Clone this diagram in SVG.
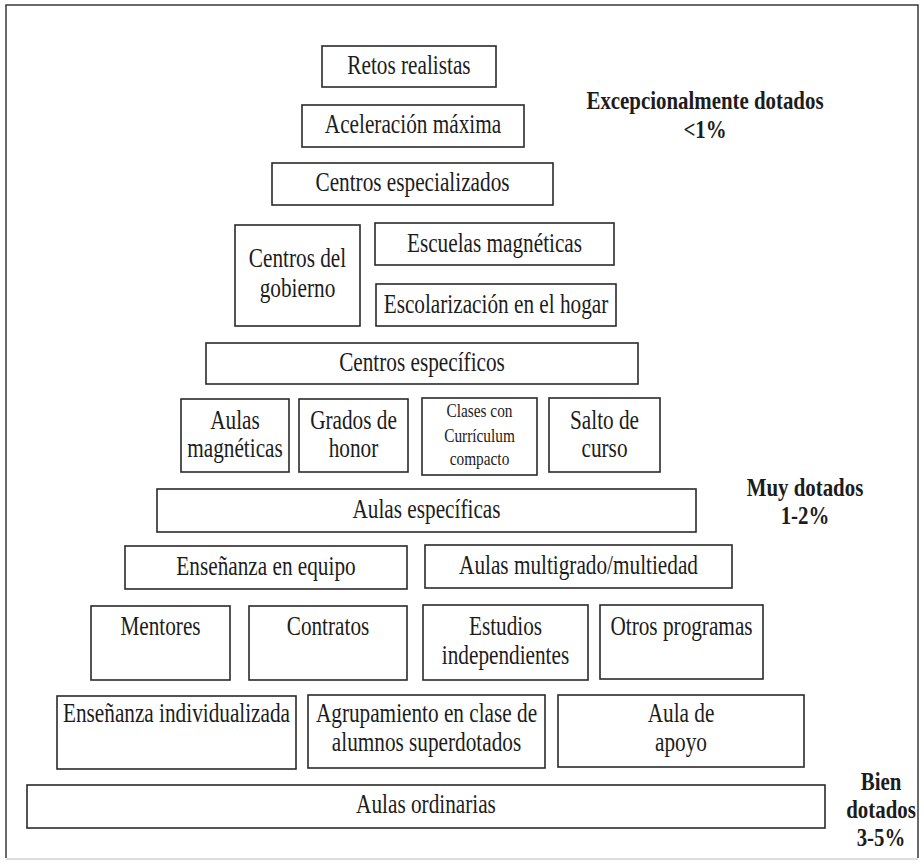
<svg xmlns="http://www.w3.org/2000/svg" width="924" height="864" viewBox="0 0 924 864">
<style>
.box{fill:#fff;stroke:#2a2a2a;stroke-width:1.6}
.t{font-family:"Liberation Serif","Times New Roman",serif;font-size:27px;fill:#1c1c1c;text-anchor:middle}
.s{font-size:19.5px}
.b{font-weight:bold;font-size:26px}
.frame{fill:none;stroke:#3a3a3a;stroke-width:1.5}
</style>
<rect width="924" height="864" fill="#fff"/>
<path class="frame" d="M6,858 L6,5 L918,5 L918,858"/>
<path d="M6,859 L918,859" stroke="#bbb" stroke-width="1" fill="none"/>
<g id="connectors"></g>
<g id="n1"><rect class="box" x="322" y="46" width="174" height="41"/><text class="t" transform="translate(409,74) scale(0.787,1)">Retos realistas</text></g>
<g id="n2"><rect class="box" x="302" y="105" width="222" height="42"/><text class="t" transform="translate(413,133) scale(0.787,1)">Aceleración máxima</text></g>
<g id="n3"><rect class="box" x="272" y="163" width="281" height="42"/><text class="t" transform="translate(412.5,191) scale(0.787,1)">Centros especializados</text></g>
<g id="n4"><rect class="box" x="235" y="225" width="125" height="101"/><text class="t" transform="translate(297.5,267) scale(0.787,1)">Centros del</text><text class="t" transform="translate(297.5,297) scale(0.787,1)">gobierno</text></g>
<g id="n5"><rect class="box" x="375" y="223" width="239" height="42"/><text class="t" transform="translate(494.5,252) scale(0.787,1)">Escuelas magnéticas</text></g>
<g id="n6"><rect class="box" x="376" y="284" width="240" height="42"/><text class="t" transform="translate(496,313) scale(0.787,1)">Escolarización en el hogar</text></g>
<g id="n7"><rect class="box" x="206" y="343" width="432" height="41"/><text class="t" transform="translate(422,371) scale(0.787,1)">Centros específicos</text></g>
<g id="n8"><rect class="box" x="181" y="399" width="108" height="73"/><text class="t" transform="translate(235,429) scale(0.787,1)">Aulas</text><text class="t" transform="translate(235,457) scale(0.787,1)">magnéticas</text></g>
<g id="n9"><rect class="box" x="299" y="399" width="109" height="73"/><text class="t" transform="translate(353.5,429) scale(0.787,1)">Grados de</text><text class="t" transform="translate(353.5,457) scale(0.787,1)">honor</text></g>
<g id="n10"><rect class="box" x="422" y="398" width="115" height="77"/><text class="t s" transform="translate(479.5,417) scale(0.787,1)">Clases con</text><text class="t s" transform="translate(479.5,442) scale(0.787,1)">Currículum</text><text class="t s" transform="translate(479.5,465) scale(0.787,1)">compacto</text></g>
<g id="n11"><rect class="box" x="549" y="398" width="111" height="74"/><text class="t" transform="translate(604.5,429) scale(0.787,1)">Salto de</text><text class="t" transform="translate(604.5,457) scale(0.787,1)">curso</text></g>
<g id="n12"><rect class="box" x="157" y="489" width="539" height="43"/><text class="t" transform="translate(426.5,518) scale(0.787,1)">Aulas específicas</text></g>
<g id="n13"><rect class="box" x="125" y="546" width="282" height="43"/><text class="t" transform="translate(266,575) scale(0.787,1)">Enseñanza en equipo</text></g>
<g id="n14"><rect class="box" x="425" y="545" width="307" height="43"/><text class="t" transform="translate(578.5,574) scale(0.787,1)">Aulas multigrado/multiedad</text></g>
<g id="n15"><rect class="box" x="91" y="606" width="139" height="74"/><text class="t" transform="translate(160.5,635) scale(0.787,1)">Mentores</text></g>
<g id="n16"><rect class="box" x="249" y="606" width="158" height="74"/><text class="t" transform="translate(328,635) scale(0.787,1)">Contratos</text></g>
<g id="n17"><rect class="box" x="423" y="605" width="165" height="75"/><text class="t" transform="translate(505.5,635) scale(0.787,1)">Estudios</text><text class="t" transform="translate(505.5,664) scale(0.787,1)">independientes</text></g>
<g id="n18"><rect class="box" x="600" y="605" width="163" height="74"/><text class="t" transform="translate(681.5,635) scale(0.787,1)">Otros programas</text></g>
<g id="n19"><rect class="box" x="57" y="696" width="239" height="73"/><text class="t" transform="translate(176.5,722) scale(0.787,1)">Enseñanza individualizada</text></g>
<g id="n20"><rect class="box" x="308" y="695" width="237" height="73"/><text class="t" transform="translate(426.5,722) scale(0.787,1)">Agrupamiento en clase de</text><text class="t" transform="translate(426.5,751) scale(0.787,1)">alumnos superdotados</text></g>
<g id="n21"><rect class="box" x="558" y="695" width="246" height="72"/><text class="t" transform="translate(681,722) scale(0.787,1)">Aula de</text><text class="t" transform="translate(681,751) scale(0.787,1)">apoyo</text></g>
<g id="n22"><rect class="box" x="27" y="785" width="798" height="43"/><text class="t" transform="translate(426,813) scale(0.787,1)">Aulas ordinarias</text></g>
<g id="label-excepcional"><text class="t b" transform="translate(705,109) scale(0.803,1)">Excepcionalmente dotados</text><text class="t b" transform="translate(705,138) scale(0.803,1)">&lt;1%</text></g>
<g id="label-muy"><text class="t b" transform="translate(805,496) scale(0.803,1)">Muy dotados</text><text class="t b" transform="translate(805,524) scale(0.803,1)">1-2%</text></g>
<g id="label-bien"><text class="t b" transform="translate(881,790) scale(0.803,1)">Bien</text><text class="t b" transform="translate(881,818) scale(0.803,1)">dotados</text><text class="t b" transform="translate(881,846) scale(0.803,1)">3-5%</text></g>
</svg>
